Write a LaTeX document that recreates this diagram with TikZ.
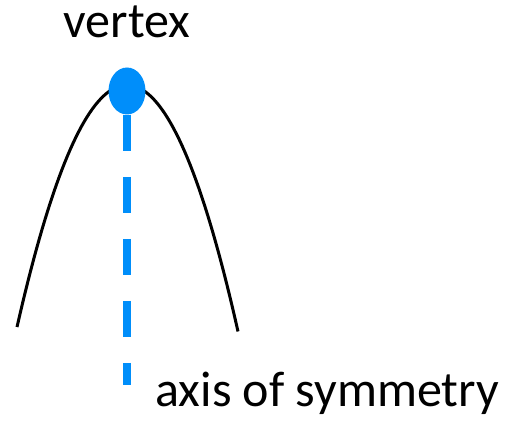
\documentclass[tikz,border=0pt]{standalone}
\usepackage{fontspec}
\setmainfont{Carlito}
\usetikzlibrary{shapes.geometric, positioning}

\definecolor{axisblue}{RGB}{0,142,250}

\begin{document}
\begin{tikzpicture}[x=0.02cm, y=-0.02cm, font=\fontsize{28.5}{34}\selectfont]
    \useasboundingbox (0,0) rectangle (505,421);

    % Parabola
    \draw [line width=0.06cm, domain=17:238, samples=80] plot (\x, {85+0.02*(\x-127)^2});

    % Axis of symmetry
    \coordinate (axisend) at (127,385);
    \node [draw=none, ellipse, fill=axisblue, inner sep=0pt, minimum width=0.74cm, minimum height=0.94cm] (v) at (127,91) {};
    \draw [axisblue, line width=0.16cm, dash pattern=on 0.72cm off 0.52cm] (v.south) -- (axisend);

    % Labels
    \node [anchor=base, inner sep=0pt] (vlabel) at (127,38) {vertex};
    \node [anchor=base west, inner sep=0pt] (alabel) at (155,407) {axis of symmetry};
\end{tikzpicture}
\end{document}
